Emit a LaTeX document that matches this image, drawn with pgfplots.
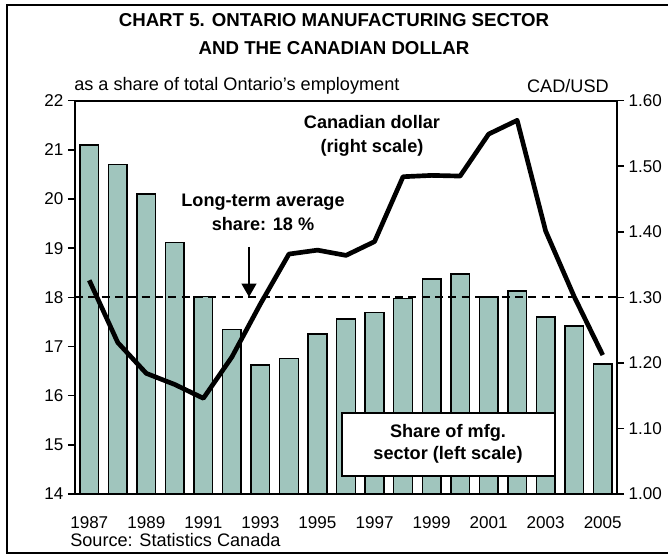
\documentclass[border=0pt]{standalone}
\usepackage{pgfplots}
\pgfplotsset{compat=1.18}
\usepackage{fontspec}
\setmainfont{Liberation Sans}
\usetikzlibrary{arrows.meta}
\definecolor{barfill}{RGB}{160,197,189}

% year index: 0 = 1987 ... 18 = 2005
\pgfplotstableread{
idx share cad
0  21.10 1.326
1  20.70 1.231
2  20.10 1.184
3  19.11 1.167
4  18.02 1.146
5  17.35 1.209
6  16.62 1.290
7  16.76 1.366
8  17.25 1.372
9  17.56 1.364
10 17.69 1.385
11 17.98 1.484
12 18.37 1.486
13 18.47 1.485
14 18.01 1.549
15 18.13 1.570
16 17.60 1.401
17 17.42 1.301
18 16.64 1.212
}\data

\pgfplotsset{
  common/.style={
    width=406.5pt, height=295pt, scale only axis,
    at={(56.25pt,46.5pt)}, anchor=south west,
    xmin=-0.5, xmax=18.5,
    axis line style={line width=1.5pt},
    major tick style={line width=1.2pt, black},
    major tick length=5.25pt,
    tick align=outside,
    tick label style={font=\fontsize{12.8}{14}\selectfont},
    /pgf/number format/assume math mode=true,
  },
}

\begin{document}
\begin{tikzpicture}
\useasboundingbox (0,0) rectangle (501pt,417pt);

\begin{axis}[common,
    ymin=14, ymax=22,
    ytick={14,15,...,22},
    ytick pos=left,
    xtick={0,2,...,18},
    xticklabels={1987,1989,1991,1993,1995,1997,1999,2001,2003,2005},
    x tick style={draw=none},
    xticklabel style={anchor=base, yshift=-20.5pt},
    ybar, bar width=14pt,
  ]
  \addplot[fill=barfill, draw=black, line width=1.1pt] table[x=idx, y=share] {\data};
\end{axis}

\begin{axis}[common,
    ymin=1, ymax=1.6,
    ytick={1,1.1,...,1.6},
    axis y line*=right,
    axis x line=none,
    yticklabel style={/pgf/number format/.cd, fixed, fixed zerofill, precision=2},
  ]
  \addplot[black, line width=1.5pt, dash pattern=on 6pt off 4pt] coordinates {(-0.5,1.3) (18.5,1.3)};
  \addplot[black, line width=3.5pt, line join=round] table[x=idx, y=cad] {\data};
\end{axis}

\begin{scope}[yshift=417pt, x=0.75pt, y=-0.75pt]
  \draw[line width=2.2pt] (680,5) -- (7,5) -- (7,553) -- (680,553);
  \node[font=\bfseries\fontsize{14}{21}\selectfont, align=center] at (334,34)
    {CHART 5. ONTARIO MANUFACTURING SECTOR\\AND THE CANADIAN DOLLAR};
  \node[anchor=west, inner sep=0pt, font=\fontsize{13.6}{16}\selectfont] at (74,86)
    {as a share of total Ontario’s employment};
  \node[anchor=east, inner sep=0pt, font=\fontsize{13.6}{16}\selectfont] at (609,86) {CAD/USD};
  \node[align=center, font=\bfseries\fontsize{13.6}{18}\selectfont] at (263,212)
    {Long-term average\\share: 18 \%};
  \node[align=center, font=\bfseries\fontsize{13.6}{18}\selectfont] at (372,136)
    {Canadian dollar\\(right scale)};
  \draw[line width=1.5pt, -{Triangle[width=11pt,length=10pt]}] (249,247) -- (249,297);
  \draw[fill=white, line width=0.8pt] (342,413) rectangle (555,476);
  \node[align=center, font=\bfseries\fontsize{13.6}{16.5}\selectfont] at (448,444)
    {Share of mfg.\\sector (left scale)};
  \node[anchor=west, inner sep=0pt, font=\fontsize{13.6}{16}\selectfont] at (70,540)
    {Source: Statistics Canada};
\end{scope}
\end{tikzpicture}
\end{document}
